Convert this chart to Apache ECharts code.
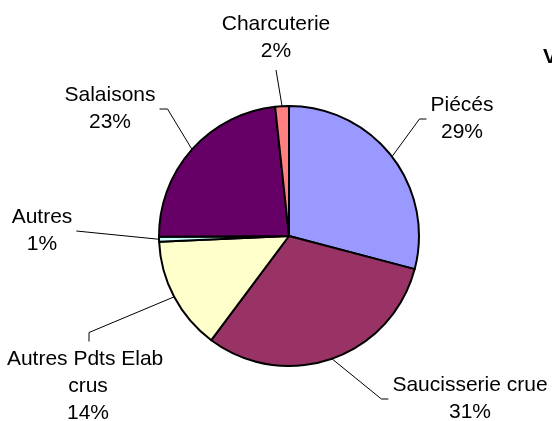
<!DOCTYPE html>
<html>
<head>
<meta charset="utf-8">
<script src="https://cdn.jsdelivr.net/npm/echarts@6/dist/echarts.min.js"></script>
<style>
html, body { margin: 0; padding: 0; background: #fff; }
#chart { width: 552px; height: 421px; }
</style>
</head>
<body>
<div id="chart"></div>
<script>
"use strict";

// share of each product family (%), clockwise from 12 o'clock
const categories = ["Piécés", "Saucisserie crue", "Autres Pdts Elab crus", "Autres", "Salaisons", "Charcuterie"];
const shares = [29.1, 31.1, 14.1, 0.6, 23.4, 1.7];
const colors = ["#9999FF", "#993366", "#FFFFCC", "#CCFFFF", "#660066", "#FF8080"];

// label centres and the side of the label the leader line reaches
const labelPlaces = [
	{ x: 462, y: 119, side: "left", elbow: 7 },
	{ x: 470, y: 399, side: "left", elbow: 7 },
	{ x: 88, y: 386, side: "top", elbow: 9 },
	{ x: 42, y: 231, side: "right", elbow: 0 },
	{ x: 110, y: 109, side: "right", elbow: 8 },
	{ x: 276, y: 38, side: "bottom", elbow: 0 }
];

const font = "'Liberation Sans', Arial, sans-serif";

// leader line: from the slice edge to the label, with a short level/upright end
const leader = (params) => {
	const place = labelPlaces[params.dataIndex];
	const w = params.labelRect.width;
	const h = params.labelRect.height;
	const start = params.labelLinePoints[0];
	let end, bend;
	if (place.side === "left") {
		end = [place.x - w / 2 - 4, place.y];
		bend = [end[0] - place.elbow, end[1]];
	} else if (place.side === "right") {
		end = [place.x + w / 2 + 4, place.y];
		bend = [end[0] + place.elbow, end[1]];
	} else if (place.side === "top") {
		end = [place.x + 1, place.y - h / 2 - 4];
		bend = [end[0], end[1] - place.elbow];
	} else {
		end = [place.x, place.y + h / 2 + 5];
		bend = [end[0], end[1] + place.elbow];
	}
	const points = place.elbow ? [start, bend, end] : [start, end];
	return {
		x: place.x,
		y: place.y,
		align: "center",
		verticalAlign: "middle",
		labelLinePoints: points
	};
};

const chart = echarts.init(document.getElementById("chart"), null, { renderer: "canvas" });

chart.setOption({
	animation: false,
	backgroundColor: "#ffffff",
	title: {
		text: "V",
		left: 538,
		top: 42,
		textStyle: { fontFamily: font, fontSize: 21, fontWeight: "bold", color: "#000" }
	},
	series: [{
		type: "pie",
		center: [289, 236],
		radius: 130,
		startAngle: 90,
		clockwise: true,
		avoidLabelOverlap: false,
		data: categories.map((name, i) => ({
			name: name,
			value: shares[i],
			itemStyle: { color: colors[i] },
			label: name.length > 18 ? { width: 175, overflow: "break" } : {}
		})),
		itemStyle: { borderColor: "#000", borderWidth: 2 },
		label: {
			show: true,
			position: "outside",
			fontFamily: font,
			fontSize: 21,
			lineHeight: 27,
			color: "#000",
			align: "center",
			formatter: (p) => p.name + "\n" + Math.round(p.percent) + "%"
		},
		labelLine: {
			show: true,
			lineStyle: { color: "#000", width: 1 }
		},
		labelLayout: leader,
		emphasis: { disabled: true }
	}]
});
</script>
</body>
</html>
